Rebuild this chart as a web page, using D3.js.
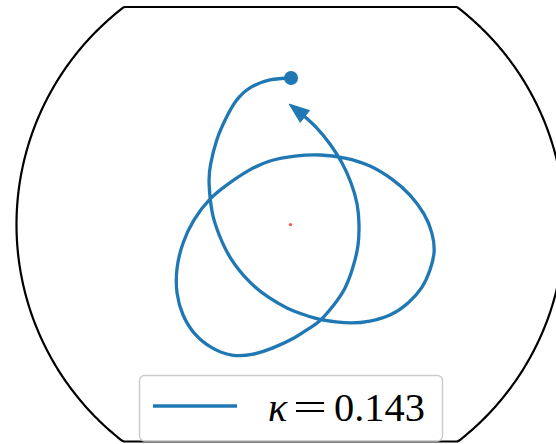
<!DOCTYPE html>
<html>
<head>
<meta charset="utf-8">
<script src="https://cdn.jsdelivr.net/npm/d3@7"></script>
<style>
  html, body { margin: 0; padding: 0; background: #fff; }
  svg { display: block; }
</style>
</head>
<body>
<svg id="chart" width="556" height="444"></svg>
<script>
// Orbit path in units of the boundary radius (boundary circle has radius 1, centred at the origin)
const trajX = [0.002, -0.075, -0.148, -0.199, -0.235, -0.269, -0.292, -0.297, -0.286, -0.260, -0.217,
  -0.148, -0.082, -0.013, 0.053, 0.108, 0.166, 0.224, 0.290, 0.363, 0.429, 0.480, 0.509, 0.524,
  0.516, 0.487, 0.436, 0.370, 0.290, 0.199, 0.108, 0.016, -0.075, -0.155, -0.228, -0.294,
  -0.352, -0.392, -0.414, -0.414, -0.392, -0.349, -0.286, -0.214, -0.141, -0.064, 0.016, 0.071,
  0.108, 0.155, 0.199, 0.228, 0.246, 0.250, 0.243, 0.221, 0.188, 0.144, 0.093, 0.042, -0.005];
const trajY = [0.535, 0.528, 0.499, 0.451, 0.389, 0.309, 0.218, 0.148, 0.046, -0.038, -0.125,
  -0.210, -0.264, -0.304, -0.330, -0.346, -0.355, -0.359, -0.352, -0.330, -0.286, -0.228, -0.166, -0.100,
  -0.031, 0.039, 0.108, 0.166, 0.214, 0.243, 0.254, 0.250, 0.232, 0.196, 0.148, 0.093,
  0.017, -0.067, -0.159, -0.250, -0.330, -0.399, -0.450, -0.476, -0.474, -0.450, -0.412, -0.377,
  -0.350, -0.297, -0.231, -0.155, -0.078, -0.001, 0.075, 0.152, 0.225, 0.294, 0.356, 0.403, 0.440];
const boundaryRadius = 1;
const legendLabel = "0.143";

const svg = d3.select("#chart");

// layout of the plotting area
const cx = 290.5, cy = 224.6, R = 274;
const axTop = 7, axBottom = 441.5;

const x = d3.scaleLinear().domain([-1, 1]).range([cx - R, cx + R]);
const y = d3.scaleLinear().domain([-1, 1]).range([cy + R, cy - R]);
const yLo = y.invert(axBottom), yHi = y.invert(axTop);

const blue = "#1f77b4";

// boundary circle, clipped to the vertical extent of the axes
const circlePts = d3.range(0, 721).map(i => {
  const t = i / 720 * 2 * Math.PI;
  const px = boundaryRadius * Math.cos(t);
  const py = Math.max(yLo, Math.min(yHi, boundaryRadius * Math.sin(t)));
  return [px, py];
});
svg.append("path")
  .attr("d", d3.line().x(d => x(d[0])).y(d => y(d[1]))(circlePts) + "Z")
  .attr("fill", "none")
  .attr("stroke", "#000")
  .attr("stroke-width", 2.2)
  .attr("stroke-linejoin", "miter");

// centre marker
svg.append("circle")
  .attr("cx", x(0)).attr("cy", y(0)).attr("r", 1.6)
  .attr("fill", "red").attr("opacity", 0.7);

// trajectory
const pts = trajX.map((d, i) => [x(d), y(trajY[i])]);
const n = pts.length;
const tip = pts[n - 1], prev = pts[n - 2];
const dx = tip[0] - prev[0], dy = tip[1] - prev[1];
const len = Math.hypot(dx, dy);
const ux = dx / len, uy = dy / len;
const headLen = 20, headHalf = 7.5;
const base = [tip[0] - ux * headLen, tip[1] - uy * headLen];
const linePts = pts.slice(0, n - 1).concat([[tip[0] - ux * (headLen - 4), tip[1] - uy * (headLen - 4)]]);

svg.append("path")
  .attr("d", d3.line().curve(d3.curveNatural)(linePts))
  .attr("fill", "none")
  .attr("stroke", blue)
  .attr("stroke-width", 3.3)
  .attr("stroke-linecap", "butt")
  .attr("stroke-linejoin", "round");

svg.append("path")
  .attr("d", d3.line()([
    tip,
    [base[0] - uy * headHalf, base[1] + ux * headHalf],
    [base[0] + uy * headHalf, base[1] - ux * headHalf]
  ]) + "Z")
  .attr("fill", blue)
  .attr("stroke", blue)
  .attr("stroke-width", 1)
  .attr("stroke-linejoin", "miter");

// start point
svg.append("circle")
  .attr("cx", pts[0][0]).attr("cy", pts[0][1]).attr("r", 7)
  .attr("fill", blue);

// legend
const lg = svg.append("g");
lg.append("rect")
  .attr("x", 139.5).attr("y", 375.5).attr("width", 303).attr("height", 65.5)
  .attr("rx", 5).attr("ry", 5)
  .attr("fill", "#fff").attr("fill-opacity", 0.8)
  .attr("stroke", "#cccccc").attr("stroke-width", 1.5);
lg.append("line")
  .attr("x1", 153).attr("x2", 237).attr("y1", 406).attr("y2", 406)
  .attr("stroke", blue).attr("stroke-width", 3.3);
lg.append("text")
  .attr("x", 268).attr("y", 420.5)
  .attr("font-family", "'Liberation Serif', serif")
  .attr("font-style", "italic")
  .attr("font-size", 40)
  .text("κ");
lg.append("text")
  .attr("x", 293).attr("y", 420.5)
  .attr("font-family", "'Liberation Serif', serif")
  .attr("font-size", 40)
  .attr("textLength", 34).attr("lengthAdjust", "spacingAndGlyphs")
  .text("=");
lg.append("text")
  .attr("x", 334).attr("y", 420.5)
  .attr("font-family", "'Liberation Serif', serif")
  .attr("font-size", 40)
  .attr("textLength", 91).attr("lengthAdjust", "spacingAndGlyphs")
  .text(legendLabel);
</script>
</body>
</html>
